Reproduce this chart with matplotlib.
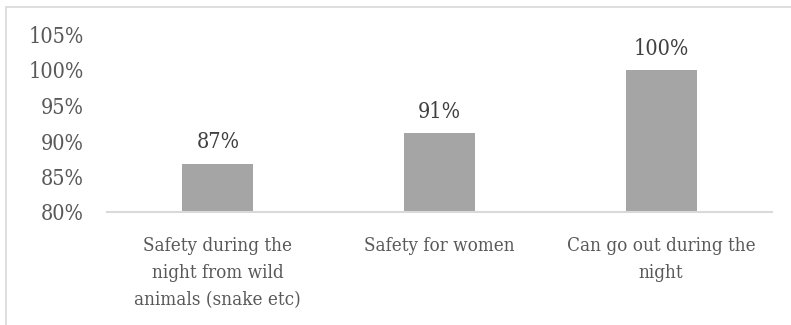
import matplotlib
matplotlib.use("Agg")
import matplotlib.pyplot as plt
from matplotlib.patches import Rectangle
from matplotlib.ticker import FuncFormatter, MultipleLocator

# Share of respondents reporting each benefit
categories = [
    "Safety during the\nnight from wild\nanimals (snake etc)",
    "Safety for women",
    "Can go out during the\nnight",
]
shares = [0.868, 0.911, 1.00]

FONT = dict(family="DejaVu Serif", stretch="condensed")
BAR_COLOR = "#a5a5a5"
AXIS_COLOR = "#d9d9d9"
TICK_COLOR = "#595959"
LABEL_COLOR = "#404040"

W, H = 791, 325
fig = plt.figure(figsize=(W / 100, H / 100), dpi=100)

# Chart frame
fig.patches.append(Rectangle((5.5 / W, -0.1), 1.2, 1 - 6.5 / H + 0.1,
                             transform=fig.transFigure, fill=False,
                             edgecolor=AXIS_COLOR, linewidth=1.2))

ax = fig.add_axes([107 / W, 1 - 212 / H, (772 - 107) / W, (212 - 34.5) / H])
x = range(len(categories))
bars = ax.bar(x, shares, width=0.32, color=BAR_COLOR, bottom=0, zorder=2)

ax.set_ylim(0.80, 1.05)
ax.set_xlim(-0.5, len(categories) - 0.5)
ax.yaxis.set_major_locator(MultipleLocator(0.05))
ax.yaxis.set_major_formatter(FuncFormatter(lambda v, _: f"{v:.0%}"))

for side in ("top", "right", "left"):
    ax.spines[side].set_visible(False)
ax.spines["bottom"].set_color(AXIS_COLOR)
ax.spines["bottom"].set_linewidth(1.5)
ax.spines["bottom"].set_zorder(3)

ax.tick_params(axis="both", length=0)
ax.tick_params(axis="y", pad=17, labelcolor=TICK_COLOR)
ax.tick_params(axis="x", pad=18, labelcolor=TICK_COLOR)

for lbl in ax.get_yticklabels():
    lbl.set_fontfamily(FONT["family"])
    lbl.set_fontstretch(FONT["stretch"])
    lbl.set_fontsize(15.5)

ax.set_xticks(list(x))
ax.set_xticklabels(categories, fontsize=13.5, linespacing=1.65,
                   family=FONT["family"], fontstretch=FONT["stretch"])

for rect, v in zip(bars, shares):
    ax.annotate(f"{v:.0%}", (rect.get_x() + rect.get_width() / 2, v),
                xytext=(0, 11), textcoords="offset points",
                ha="center", va="baseline", fontsize=15.5,
                color=LABEL_COLOR, family=FONT["family"],
                fontstretch=FONT["stretch"])

fig.savefig("out.png", dpi=100)
